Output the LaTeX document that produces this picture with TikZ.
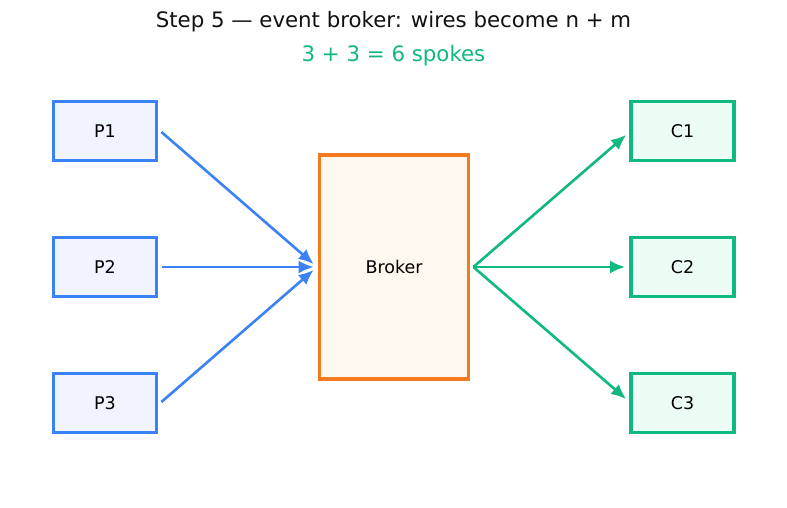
\documentclass[tikz,border=0pt]{standalone}
\usepackage{fontspec}
\setmainfont{DejaVu Sans}
\usepackage{xcolor}
\usetikzlibrary{arrows.meta}
\definecolor{prodblue}{HTML}{3B82F6}
\definecolor{prodfill}{HTML}{EFF4FF}
\definecolor{consgreen}{HTML}{10B981}
\definecolor{consfill}{HTML}{ECFDF5}
\definecolor{brokorange}{HTML}{F47A1F}
\definecolor{brokfill}{HTML}{FFF8EE}
\definecolor{titlegray}{HTML}{111111}

\tikzset{
  prodbox/.style={draw=prodblue, fill=prodfill, line width=3.8pt,
    minimum width=103pt, minimum height=59pt, inner sep=0pt,
    font=\fontsize{17.5}{20}\selectfont},
  consbox/.style={prodbox, draw=consgreen, fill=consfill},
  brokbox/.style={prodbox, draw=brokorange, fill=brokfill,
    minimum width=149pt, minimum height=224pt},
  pline/.style={-{Latex[length=15pt,width=13pt]}, line width=2.6pt, prodblue},
  cline/.style={pline, consgreen},
}

\begin{document}
\begin{tikzpicture}[x=1pt, y=-1pt]
  \useasboundingbox[fill=white] (0,0) rectangle (787,508);

  % Titel
  \node[titlegray, font=\fontsize{21.3}{25}\selectfont] (title) at (393.5,22) {Step 5 — event broker: wires become n + m};
  \node[consgreen, font=\fontsize{21.3}{25}\selectfont] (subtitle) at (393.5,56) {3 + 3 = 6 spokes};

  % Producer
  \node[prodbox] (p1) at (105,131) {P1};
  \node[prodbox] (p2) at (105,267) {P2};
  \node[prodbox] (p3) at (105,403) {P3};

  % Broker
  \node[brokbox] (broker) at (394,267) {Broker};

  % Consumer
  \node[consbox] (c1) at (682.5,131) {C1};
  \node[consbox] (c2) at (682.5,267) {C2};
  \node[consbox] (c3) at (682.5,403) {C3};

  % Speichen
  \draw[pline] ([xshift=3pt,yshift=-1pt]p1.east) -- ([xshift=-4pt,yshift=3pt]broker.west);
  \draw[pline] ([xshift=4pt]p2.east) -- ([xshift=-4pt]broker.west);
  \draw[pline] ([xshift=3pt,yshift=1pt]p3.east) -- ([xshift=-4pt,yshift=-3pt]broker.west);

  \draw[cline] ([xshift=3pt]broker.east) -- ([xshift=-3pt,yshift=-4pt]c1.west);
  \draw[cline] ([xshift=3pt]broker.east) -- ([xshift=-4pt]c2.west);
  \draw[cline] ([xshift=3pt]broker.east) -- ([xshift=-3pt,yshift=4pt]c3.west);
\end{tikzpicture}
\end{document}
